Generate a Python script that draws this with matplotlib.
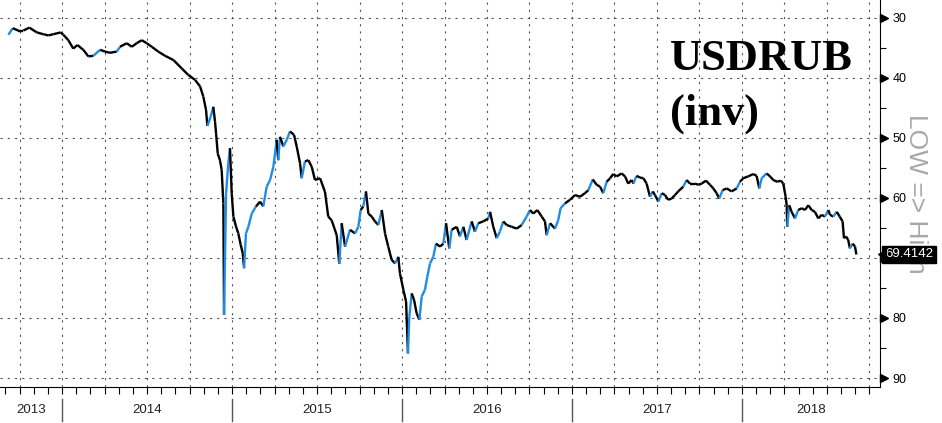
import matplotlib
matplotlib.use('Agg')
import matplotlib.pyplot as plt
import numpy as np
from matplotlib.collections import LineCollection
from matplotlib.transforms import blended_transform_factory, ScaledTranslation

# ---- data (decimal year, USDRUB) ----
t = [2013.684, 2013.710, 2013.743, 2013.772, 2013.808, 2013.851, 2013.890, 2013.919, 2013.949, 2013.992,
     2014.008, 2014.037, 2014.066, 2014.090, 2014.125, 2014.155, 2014.184, 2014.224, 2014.253, 2014.282,
     2014.322, 2014.341, 2014.381, 2014.410, 2014.439, 2014.469, 2014.498, 2014.528, 2014.566, 2014.606,
     2014.655, 2014.704, 2014.743, 2014.782, 2014.812, 2014.831, 2014.847, 2014.855, 2014.875, 2014.890,
     2014.900, 2014.906, 2014.916, 2014.929, 2014.939, 2014.949, 2014.953, 2014.965, 2014.978, 2014.988,
     2014.998, 2015.008, 2015.024, 2015.037, 2015.051, 2015.063, 2015.071, 2015.082, 2015.096, 2015.116,
     2015.141, 2015.165, 2015.184, 2015.204, 2015.224, 2015.243, 2015.263, 2015.272, 2015.282, 2015.302,
     2015.322, 2015.341, 2015.365, 2015.381, 2015.400, 2015.410, 2015.429, 2015.449, 2015.469, 2015.488,
     2015.518, 2015.547, 2015.566, 2015.586, 2015.616, 2015.631, 2015.645, 2015.665, 2015.694, 2015.724,
     2015.743, 2015.757, 2015.772, 2015.788, 2015.802, 2015.822, 2015.841, 2015.861, 2015.881, 2015.900,
     2015.919, 2015.939, 2015.959, 2015.978, 2015.988, 2016.008, 2016.024, 2016.035, 2016.043, 2016.057,
     2016.071, 2016.086, 2016.102, 2016.116, 2016.135, 2016.149, 2016.165, 2016.184, 2016.200, 2016.224,
     2016.243, 2016.259, 2016.278, 2016.292, 2016.322, 2016.341, 2016.361, 2016.380, 2016.410, 2016.429,
     2016.449, 2016.478, 2016.508, 2016.518, 2016.537, 2016.557, 2016.576, 2016.596, 2016.616, 2016.645,
     2016.675, 2016.704, 2016.733, 2016.753, 2016.772, 2016.796, 2016.822, 2016.841, 2016.851, 2016.871,
     2016.900, 2016.919, 2016.933, 2016.959, 2016.988, 2017.018, 2017.047, 2017.076, 2017.096, 2017.122,
     2017.145, 2017.165, 2017.184, 2017.204, 2017.224, 2017.243, 2017.263, 2017.292, 2017.312, 2017.331,
     2017.351, 2017.361, 2017.380, 2017.400, 2017.420, 2017.439, 2017.459, 2017.475, 2017.488, 2017.508,
     2017.528, 2017.547, 2017.566, 2017.586, 2017.606, 2017.625, 2017.655, 2017.674, 2017.694, 2017.724,
     2017.743, 2017.763, 2017.788, 2017.812, 2017.831, 2017.851, 2017.866, 2017.886, 2017.910, 2017.939,
     2017.969, 2017.988, 2018.008, 2018.037, 2018.066, 2018.086, 2018.102, 2018.116, 2018.145, 2018.165,
     2018.184, 2018.208, 2018.228, 2018.243, 2018.257, 2018.263, 2018.266, 2018.278, 2018.292, 2018.312,
     2018.331, 2018.351, 2018.371, 2018.390, 2018.410, 2018.429, 2018.449, 2018.469, 2018.488, 2018.508,
     2018.518, 2018.537, 2018.557, 2018.575, 2018.592, 2018.600, 2018.612, 2018.625, 2018.635, 2018.651,
     2018.665, 2018.673]
usdrub = [32.8, 31.7, 32.1, 32.1, 31.6, 32.4, 32.7, 32.9, 32.7, 32.4,
          32.8, 33.7, 35.1, 34.5, 35.3, 36.4, 36.3, 35.3, 35.6, 35.8,
          35.6, 34.8, 34.2, 34.8, 34.2, 33.7, 34.2, 34.8, 35.6, 36.3,
          37.0, 38.4, 39.5, 40.3, 41.4, 43.1, 45.3, 48.0, 46.4, 44.8,
          47.3, 49.2, 52.6, 53.7, 55.3, 60.9, 79.5, 59.2, 54.2, 51.7,
          59.2, 63.1, 64.8, 65.9, 67.8, 69.2, 71.7, 65.9, 64.8, 62.6,
          61.4, 60.6, 61.4, 58.1, 57.0, 54.8, 50.3, 53.7, 49.8, 51.4,
          50.3, 48.9, 49.5, 51.5, 54.2, 56.7, 53.9, 53.7, 54.8, 57.0,
          56.7, 59.0, 63.1, 63.7, 66.2, 71.0, 64.2, 68.1, 65.3, 65.9,
          64.8, 62.0, 61.4, 58.9, 62.6, 63.1, 63.9, 64.5, 62.0, 65.9,
          68.1, 70.3, 70.9, 69.8, 72.6, 75.3, 77.3, 85.9, 79.8, 75.9,
          77.0, 79.2, 80.3, 76.4, 75.3, 73.1, 70.9, 69.8, 67.6, 68.1,
          67.6, 64.2, 68.4, 65.3, 64.8, 66.4, 64.8, 67.0, 63.9, 65.6,
          64.2, 63.9, 63.4, 62.3, 64.8, 66.7, 65.6, 63.9, 64.5, 64.8,
          65.1, 64.5, 63.1, 62.0, 62.6, 62.0, 63.1, 63.9, 66.2, 64.2,
          65.1, 63.7, 61.7, 60.9, 60.3, 59.5, 59.8, 59.2, 58.7, 56.9,
          57.8, 58.1, 59.2, 57.3, 56.7, 56.0, 56.4, 55.9, 56.4, 57.6,
          57.0, 57.6, 56.3, 56.6, 56.7, 57.6, 59.8, 58.9, 59.5, 60.6,
          59.2, 59.5, 60.3, 60.1, 59.5, 58.9, 58.1, 57.0, 57.6, 57.6,
          57.8, 57.6, 57.1, 57.8, 58.4, 59.2, 60.1, 58.7, 58.4, 58.9,
          58.4, 57.3, 56.7, 56.4, 56.0, 56.3, 58.4, 56.7, 55.9, 56.4,
          57.0, 57.3, 57.1, 57.6, 59.8, 61.2, 64.8, 61.2, 62.3, 63.4,
          62.0, 61.7, 62.0, 61.2, 62.0, 62.3, 63.4, 62.8, 63.1, 62.0,
          62.8, 63.1, 62.3, 63.1, 63.9, 66.7, 66.4, 67.0, 68.4, 67.6,
          68.1, 69.4142]
last_value = 69.4142
years = [2013, 2014, 2015, 2016, 2017, 2018]
y_major = [30, 40, 50, 60, 70, 80, 90]
y_minor = [35, 45, 55, 65, 75, 85]

BLUE = '#1f8de6'

fig = plt.figure(figsize=(9.42, 4.23), dpi=100)
fig.patch.set_facecolor('white')
ax = fig.add_axes([0, 1 - 387 / 423, 880 / 942, 387 / 423])
x0, x1 = 2013.635, 2018.812
ax.set_xlim(x0, x1)
ax.set_ylim(91.5, 27)

# line coloured by direction
pts = np.column_stack([t, usdrub])
segs = np.stack([pts[:-1], pts[1:]], axis=1)
vals = np.array(usdrub)
cols = [BLUE if vals[i + 1] < vals[i] - 0.8 else 'black' for i in range(len(vals) - 1)]
lc = LineCollection(segs, colors=cols, linewidths=1.7, capstyle='butt', zorder=3)
ax.add_collection(lc)

# spines
for s in ['left', 'top']:
    ax.spines[s].set_visible(False)
ax.spines['right'].set_color('black')
ax.spines['bottom'].set_color('black')

# grid
quarters = [2013.75 + 0.25 * k for k in range(21)]
months = [2013 + 8 / 12 + k / 12 for k in range(62)]
ax.set_xticks([q for q in quarters if x0 <= q <= x1])
ax.set_xticks([m for m in months if x0 <= m <= x1], minor=True)
ax.tick_params(axis='x', which='both', direction='out', length=5, width=0.8,
               labelbottom=False, color='black')
ax.set_yticks(y_major)
ax.set_yticks(y_minor, minor=True)
ax.yaxis.tick_right()
ax.tick_params(axis='y', which='major', length=0, pad=9, labelsize=9)
ax.tick_params(axis='y', which='minor', length=4, width=0.8, direction='out')
for lab in ax.get_yticklabels():
    lab.set_fontfamily('Liberation Sans')
ax.grid(True, which='major', linestyle=(0, (2, 4.5)), color='#555555', linewidth=0.8)

# triangle tick markers
tr = blended_transform_factory(ax.transAxes, ax.transData) + \
    ScaledTranslation(4 / 100, 0, fig.dpi_scale_trans)
ax.plot([1.0] * len(y_major), y_major, ls='none', marker='>', ms=6,
        color='black', transform=tr, clip_on=False, zorder=5)

# year labels and separators
trx = blended_transform_factory(ax.transData, ax.transAxes)
for y in years:
    a, b = max(y, x0), min(y + 1, x1)
    ax.text((a + b) / 2, -0.06, str(y), transform=trx, ha='center', va='center',
            fontsize=9.5, family='Liberation Sans', color='#222222')
    if x0 < y < x1:
        ax.plot([y, y], [-0.031, -0.088], transform=trx, color='#555555',
                lw=1, clip_on=False)

# title
fig.text(670 / 942, 1 - 70 / 423, 'USDRUB', family='Liberation Serif', weight='bold',
         fontsize=32, color='black', va='baseline', ha='left')
fig.text(670 / 942, 1 - 125 / 423, '(inv)', family='Liberation Serif', weight='bold',
         fontsize=32, color='black', va='baseline', ha='left')

# side note (drawn beneath the value label)
ax.text(1.0, 0.0, 'LOW => High', rotation=270, color='#a8a8a8',
        fontsize=19, ha='center', va='top', family='Liberation Sans', zorder=1,
        clip_on=False,
        transform=ax.transAxes + ScaledTranslation(36 / 100, (387 - 114) / 100,
                                                   fig.dpi_scale_trans))

# last value label: black box with small left-pointing tip
tr2 = blended_transform_factory(ax.transAxes, ax.transData) + \
    ScaledTranslation(5 / 100, 0, fig.dpi_scale_trans)
ax.text(1.0, last_value, f'{last_value:.4f}', transform=tr2, color='white',
        fontsize=9.5, family='Liberation Sans', ha='left', va='center', clip_on=False,
        bbox=dict(boxstyle='square,pad=0.2', fc='black', ec='black'), zorder=10)
tr3 = blended_transform_factory(ax.transAxes, ax.transData) + \
    ScaledTranslation(1.5 / 100, 0, fig.dpi_scale_trans)
ax.plot([1.0], [last_value], ls='none', marker='<', ms=6, color='black',
        transform=tr3, clip_on=False, zorder=10)

fig.savefig('out.png', dpi=100, facecolor='white')
